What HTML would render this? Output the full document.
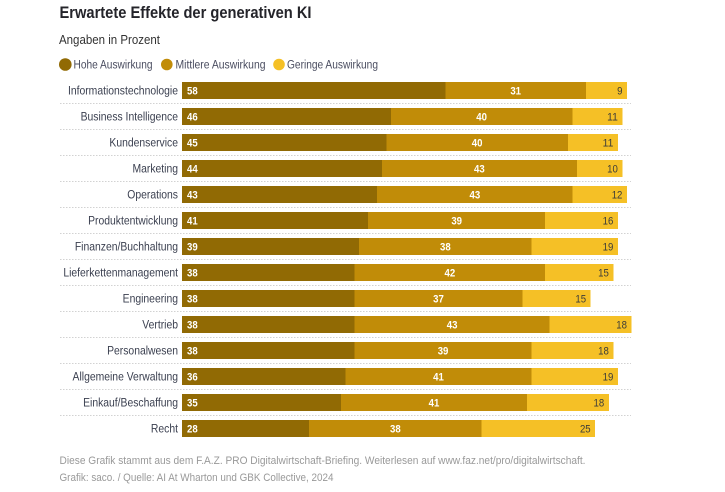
<!DOCTYPE html>
<html lang="de">
<head>
<meta charset="utf-8">
<title>Erwartete Effekte der generativen KI</title>
<style>
html,body{margin:0;padding:0;background:#fff;width:725px;height:492px;overflow:hidden}
svg{display:block}
text{font-family:"Liberation Sans",sans-serif}
.cat{font-size:12px;fill:#3a3f4f;text-anchor:end}
.val{font-size:11px}
.leg{font-size:11.5px;fill:#4a4d60}
.foot{font-size:11px;fill:#999}
rect{shape-rendering:crispEdges}
</style>
</head>
<body>
<svg id="chart" width="725" height="492" viewBox="0 0 725 492" xmlns="http://www.w3.org/2000/svg">
<text x="59.5" y="18" font-size="16.5" font-weight="bold" fill="#24242a" textLength="252" lengthAdjust="spacingAndGlyphs">Erwartete Effekte der generativen KI</text>
<text x="59" y="44" font-size="12.5" fill="#333" textLength="101" lengthAdjust="spacingAndGlyphs">Angaben in Prozent</text>
<g>
<circle cx="65.3" cy="64.5" r="6.3" fill="#916a04"/>
<text class="leg" x="73.5" y="68.5" textLength="79" lengthAdjust="spacingAndGlyphs">Hohe Auswirkung</text>
<circle cx="166.8" cy="64.5" r="5.8" fill="#c18c08"/>
<text class="leg" x="175.5" y="68.5" textLength="90" lengthAdjust="spacingAndGlyphs">Mittlere Auswirkung</text>
<circle cx="279" cy="64.5" r="5.8" fill="#f5c026"/>
<text class="leg" x="287" y="68.5" textLength="91" lengthAdjust="spacingAndGlyphs">Geringe Auswirkung</text>
</g>
<g id="rows"></g>
<text class="foot" x="59.5" y="464" textLength="526" lengthAdjust="spacingAndGlyphs">Diese Grafik stammt aus dem F.A.Z. PRO Digitalwirtschaft-Briefing. Weiterlesen auf www.faz.net/pro/digitalwirtschaft.</text>
<text class="foot" x="59.5" y="481" textLength="274" lengthAdjust="spacingAndGlyphs">Grafik: saco. / Quelle: AI At Wharton und GBK Collective, 2024</text>
</svg>
<script>
const categories = ["Informationstechnologie","Business Intelligence","Kundenservice","Marketing","Operations","Produktentwicklung","Finanzen/Buchhaltung","Lieferkettenmanagement","Engineering","Vertrieb","Personalwesen","Allgemeine Verwaltung","Einkauf/Beschaffung","Recht"];
const hohe = [58,46,45,44,43,41,39,38,38,38,38,36,35,28];
const mittlere = [31,40,40,43,43,39,38,42,37,43,39,41,41,38];
const geringe = [9,11,11,10,12,16,19,15,15,18,18,19,18,25];

const NS = "http://www.w3.org/2000/svg";
const rowsGroup = document.getElementById("rows");
const xScale = v => 182 + v * 4.54;
const yScale = i => 82 + i * 26;
const BAR_H = 17;

function add(parent, tag, attrs, content) {
  const el = document.createElementNS(NS, tag);
  for (const k in attrs) el.setAttribute(k, attrs[k]);
  if (content !== undefined) el.textContent = content;
  parent.appendChild(el);
  return el;
}
const digitWidth = v => String(v).length * 5.35;

categories.forEach((cat, i) => {
  const y = yScale(i);
  const x0 = xScale(0);
  const x1 = xScale(hohe[i]);
  const x2 = xScale(hohe[i] + mittlere[i]);
  const x3 = xScale(hohe[i] + mittlere[i] + geringe[i]);

  const label = add(rowsGroup, "text", {class: "cat", transform: "translate(178 " + (y + 12.5) + ") scale(.865 1)"}, cat);
  
  

  const barA = add(rowsGroup, "rect", {x: x0, y: y, width: x1 - x0, height: BAR_H, fill: "#916a04"});
  
  

  const barB = add(rowsGroup, "rect", {x: x1, y: y, width: x2 - x1, height: BAR_H, fill: "#c18c08"});
  
  

  const barC = add(rowsGroup, "rect", {x: x2, y: y, width: x3 - x2, height: BAR_H, fill: "#f5c026"});
  
  

  const valA = add(rowsGroup, "text", {class: "val", x: x0 + 5, y: y + 12.5, fill: "#fff", "font-weight": "bold", textLength: digitWidth(hohe[i]), lengthAdjust: "spacingAndGlyphs"}, hohe[i]);
  
  

  const valB = add(rowsGroup, "text", {class: "val", x: (x1 + x2) / 2, y: y + 12.5, fill: "#fff", "font-weight": "bold", "text-anchor": "middle", textLength: digitWidth(mittlere[i]), lengthAdjust: "spacingAndGlyphs"}, mittlere[i]);
  
  

  const valC = add(rowsGroup, "text", {class: "val", x: x3 - 4.5, y: y + 12.5, fill: "#3c3c38", "text-anchor": "end", textLength: digitWidth(geringe[i]), lengthAdjust: "spacingAndGlyphs"}, geringe[i]);
  
  

  if (i < categories.length - 1) {
    const sep = add(rowsGroup, "line", {x1: 60, x2: 631, y1: y + 21.5, y2: y + 21.5, stroke: "#d2d2d2", "stroke-width": 1, "stroke-dasharray": "1.5 1.5"});
    
    
  }
});
</script>
</body>
</html>
